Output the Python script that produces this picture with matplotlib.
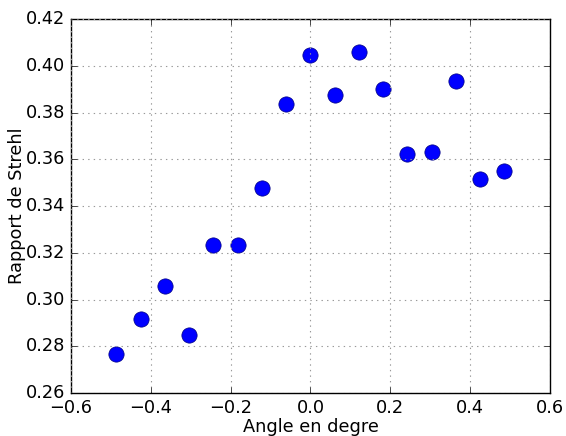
import matplotlib
matplotlib.use("Agg")
import matplotlib.pyplot as plt

# Angle (degre) et rapport de Strehl
angles = [-0.486, -0.425, -0.364, -0.304, -0.243, -0.182, -0.121, -0.061, 0.0,
          0.061, 0.121, 0.182, 0.243, 0.304, 0.364, 0.425, 0.486]
strehl = [0.2766, 0.2918, 0.3059, 0.2850, 0.3233, 0.3233, 0.3477, 0.3836, 0.4046,
          0.3874, 0.4060, 0.3902, 0.3622, 0.3632, 0.3935, 0.3517, 0.3548]

plt.style.use('classic')
fig = plt.figure(figsize=(5.66, 4.36), dpi=100, facecolor='white')
ax = fig.add_axes([0.1254, 0.0986, 0.8463, 0.8578])

ax.plot(angles, strehl, 'o', color='blue', markersize=11, markeredgecolor='#000080',
        markeredgewidth=0.5)
ax.set_xlim(-0.6, 0.6)
ax.set_ylim(0.26, 0.42)
ax.grid(True, color='#999999', linestyle=':', linewidth=0.8)
ax.set_xlabel("Angle en degre", fontsize=12.8, labelpad=1)
ax.set_ylabel("Rapport de Strehl", fontsize=12.8, labelpad=0)
ax.tick_params(labelsize=12.8, pad=4)

fig.savefig("out.png", dpi=100, facecolor='white')
